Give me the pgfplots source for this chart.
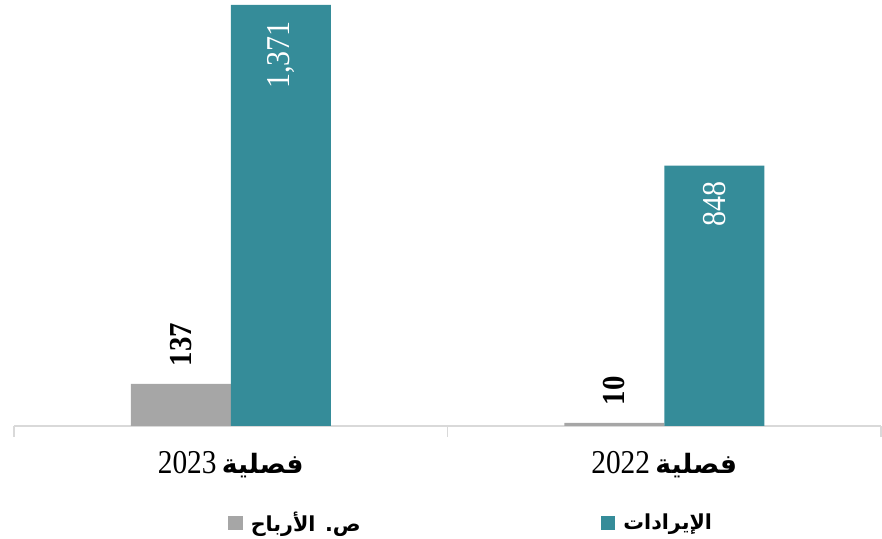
\documentclass[border=0pt]{standalone}
\usepackage{fontspec}
\usepackage{graphicx}
\usepackage{pgfplots}
\pgfplotsset{compat=1.18}
\setmainfont{Liberation Serif}
\newfontfamily\arabicfont[Script=Arabic]{DejaVu Sans}
\TeXXeTstate=1
\definecolor{teal1}{HTML}{358C99}
\definecolor{grey1}{HTML}{A6A6A6}
\definecolor{axisgrey}{HTML}{D9D9D9}
\newcommand{\catlabel}[1]{\beginR{\arabicfont\bfseries\fontsize{20}{22}\selectfont فصلية}\hspace{4pt}\beginL\scalebox{0.88}[1]{\fontsize{25}{25}\selectfont #1}\endL\endR}
\begin{document}
\begin{tikzpicture}
\begin{axis}[
  width=650.25pt, height=319.5pt, scale only axis,
  ybar=0pt, bar width=75pt,
  xmin=-0.5, xmax=1.5, ymin=0, ymax=1387,
  axis y line=none,
  axis x line=bottom,
  x axis line style={draw=axisgrey, line width=1pt, -},
  xtick={0,1},
  xticklabels={{\catlabel{2023}},{\catlabel{2022}}},
  major tick length=0pt,
  minor xtick={-0.5,0.5,1.5},
  minor tick length=8pt,
  minor x tick style={draw=axisgrey, line width=1pt},
  tick align=outside,
  xticklabel style={anchor=base, yshift=-35.5pt, inner sep=0pt},
  legend style={at={(axis description cs:0.242,-0.228)}, anchor=west, draw=none, fill=none,
    legend columns=2, font=\arabicfont\bfseries\fontsize{15.5}{18}\selectfont,
    nodes={inner xsep=6pt},
    /tikz/every even column/.append style={column sep=174pt}},
  legend cell align=left,
]
\addplot[fill=grey1, draw=none,
  legend image code/.code={\fill[grey1] (0pt,-5.5pt) rectangle (11pt,5.5pt);},
  nodes near coords={\scalebox{0.9}[1]{\pgfmathprintnumber[assume math mode=true]{\pgfplotspointmeta}}},
  nodes near coords style={rotate=90, anchor=west, inner xsep=13pt, text=black,
    font=\bfseries\fontsize{24}{24}\selectfont}]
  coordinates {(0,137) (1,10)};
\addlegendentry{\beginR ص. الأرباح\endR}
\addplot[fill=teal1, draw=none,
  legend image code/.code={\fill[teal1] (0pt,-5.5pt) rectangle (11pt,5.5pt);},
  nodes near coords={\scalebox{0.9}[1]{\pgfmathprintnumber[assume math mode=true,1000 sep={,}]{\pgfplotspointmeta}}},
  nodes near coords style={rotate=90, anchor=east, inner xsep=12pt, text=white,
    font=\fontsize{25}{25}\selectfont}]
  coordinates {(0,1371) (1,848)};
\addlegendentry{\beginR الإيرادات\endR}
\end{axis}
\pgfresetboundingbox
\path[use as bounding box] ([shift={(-10.5pt,-84.75pt)}]current axis.south west) rectangle ([shift={(0.75pt,0pt)}]current axis.north east);
\end{tikzpicture}
\end{document}
